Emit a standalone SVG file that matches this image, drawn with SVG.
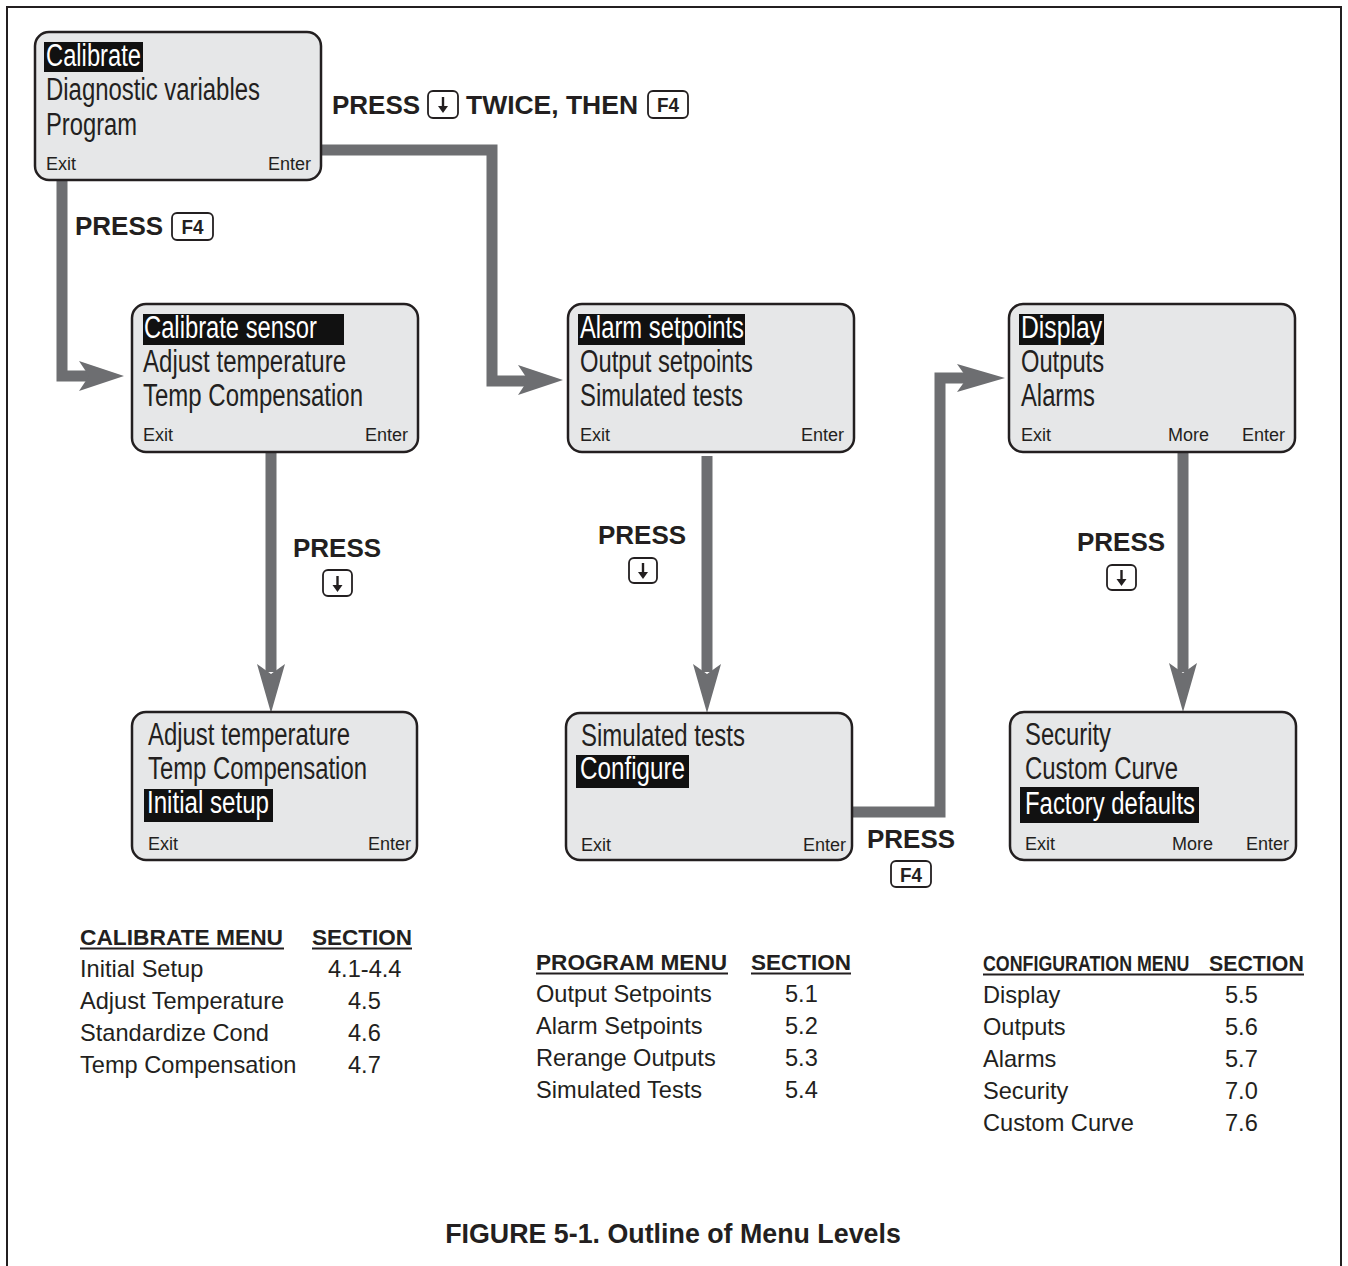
<svg xmlns="http://www.w3.org/2000/svg" width="1348" height="1266" viewBox="0 0 1348 1266">
<style>
.box{fill:#e6e7e8;stroke:#231f20;stroke-width:2.5}
.hl{fill:#111}
.lcd{font-family:"Liberation Sans",Arial,sans-serif;font-size:31px;fill:#231f20}
.lcdw{font-family:"Liberation Sans",Arial,sans-serif;font-size:31px;fill:#fff}
.soft{font-family:"Liberation Sans",Arial,sans-serif;font-size:18px;fill:#231f20}
.lbl{font-family:"Liberation Sans",Arial,sans-serif;font-size:26px;font-weight:bold;fill:#231f20}
.cap{font-family:"Liberation Sans",Arial,sans-serif;font-size:26.8px;font-weight:bold;fill:#231f20}
.key{fill:#fff;stroke:#231f20;stroke-width:1.8}
.keyt{font-family:"Liberation Sans",Arial,sans-serif;font-size:20px;font-weight:bold;fill:#231f20;text-anchor:middle}
.hd{font-family:"Liberation Sans",Arial,sans-serif;font-size:22px;font-weight:bold;fill:#231f20}
.row{font-family:"Liberation Sans",Arial,sans-serif;font-size:23.6px;fill:#231f20}
.ul{stroke:#231f20;stroke-width:2}
.conn{fill:none;stroke:#6d6e71;stroke-width:11;stroke-linejoin:miter}
.head{fill:#6d6e71}
</style>
<rect x="0" y="0" width="1348" height="1266" fill="#fff"/>
<path d="M7,1266 V7 H1341 V1266" fill="none" stroke="#231f20" stroke-width="2"/>

<g id="connectors">
<polyline class="conn" points="62,180 62,376 92,376"/>
<polygon class="head" points="124,376 79,361 89,376 79,391"/>
<polyline class="conn" points="321,150 492,150 492,381 530,381"/>
<polygon class="head" points="563,380 518,365 528,380 518,395"/>
<polyline class="conn" points="271,452 271,672"/>
<polygon class="head" points="271,713 257,664 271,674 285,664"/>
<polyline class="conn" points="707,456 707,672"/>
<polygon class="head" points="707,713 693,664 707,674 721,664"/>
<polyline class="conn" points="1183,452 1183,672"/>
<polygon class="head" points="1183,712 1169,663 1183,673 1197,663"/>
<polyline class="conn" points="852,812 940,812 940,378 968,378"/>
<polygon class="head" points="1005,378 957,364 967,378 957,392"/>
</g>

<g id="node-main">
<rect class="box" x="35" y="32" width="286" height="148" rx="14"/>
<rect class="hl" x="44" y="42" width="99" height="30"/>
<text class="lcdw" x="46" y="66" textLength="95" lengthAdjust="spacingAndGlyphs">Calibrate</text>
<text class="lcd" x="46" y="100" textLength="214" lengthAdjust="spacingAndGlyphs">Diagnostic variables</text>
<text class="lcd" x="46" y="135" textLength="91" lengthAdjust="spacingAndGlyphs">Program</text>
<text class="soft" x="46" y="170">Exit</text>
<text class="soft" x="311" y="170" text-anchor="end">Enter</text>
</g>

<g id="node-calibrate">
<rect class="box" x="132" y="304" width="286" height="148" rx="14"/>
<rect class="hl" x="143" y="314" width="201" height="31"/>
<text class="lcdw" x="144" y="338" textLength="173" lengthAdjust="spacingAndGlyphs">Calibrate sensor</text>
<text class="lcd" x="143" y="372" textLength="203" lengthAdjust="spacingAndGlyphs">Adjust temperature</text>
<text class="lcd" x="143" y="406" textLength="220" lengthAdjust="spacingAndGlyphs">Temp Compensation</text>
<text class="soft" x="143" y="441">Exit</text>
<text class="soft" x="408" y="441" text-anchor="end">Enter</text>
</g>

<g id="node-program">
<rect class="box" x="568" y="304" width="286" height="148" rx="14"/>
<rect class="hl" x="578" y="314" width="167" height="31"/>
<text class="lcdw" x="580" y="338" textLength="164" lengthAdjust="spacingAndGlyphs">Alarm setpoints</text>
<text class="lcd" x="580" y="372" textLength="173" lengthAdjust="spacingAndGlyphs">Output setpoints</text>
<text class="lcd" x="580" y="406" textLength="163" lengthAdjust="spacingAndGlyphs">Simulated tests</text>
<text class="soft" x="580" y="441">Exit</text>
<text class="soft" x="844" y="441" text-anchor="end">Enter</text>
</g>

<g id="node-config">
<rect class="box" x="1009" y="304" width="286" height="148" rx="14"/>
<rect class="hl" x="1019" y="314" width="85" height="31"/>
<text class="lcdw" x="1021" y="338" textLength="81" lengthAdjust="spacingAndGlyphs">Display</text>
<text class="lcd" x="1021" y="372" textLength="83" lengthAdjust="spacingAndGlyphs">Outputs</text>
<text class="lcd" x="1021" y="406" textLength="74" lengthAdjust="spacingAndGlyphs">Alarms</text>
<text class="soft" x="1021" y="441">Exit</text>
<text class="soft" x="1168" y="441">More</text>
<text class="soft" x="1285" y="441" text-anchor="end">Enter</text>
</g>

<g id="node-calibrate-2">
<rect class="box" x="132" y="712" width="285" height="148" rx="14"/>
<text class="lcd" x="148" y="745" textLength="202" lengthAdjust="spacingAndGlyphs">Adjust temperature</text>
<text class="lcd" x="148" y="779" textLength="219" lengthAdjust="spacingAndGlyphs">Temp Compensation</text>
<rect class="hl" x="144" y="789" width="129" height="33"/>
<text class="lcdw" x="147" y="813" textLength="122" lengthAdjust="spacingAndGlyphs">Initial setup</text>
<text class="soft" x="148" y="850">Exit</text>
<text class="soft" x="411" y="850" text-anchor="end">Enter</text>
</g>

<g id="node-program-2">
<rect class="box" x="566" y="713" width="286" height="147" rx="14"/>
<text class="lcd" x="581" y="746" textLength="164" lengthAdjust="spacingAndGlyphs">Simulated tests</text>
<rect class="hl" x="576" y="755" width="113" height="33"/>
<text class="lcdw" x="580" y="779" textLength="105" lengthAdjust="spacingAndGlyphs">Configure</text>
<text class="soft" x="581" y="851">Exit</text>
<text class="soft" x="846" y="851" text-anchor="end">Enter</text>
</g>

<g id="node-config-2">
<rect class="box" x="1010" y="712" width="286" height="148" rx="14"/>
<text class="lcd" x="1025" y="745" textLength="86" lengthAdjust="spacingAndGlyphs">Security</text>
<text class="lcd" x="1025" y="779" textLength="153" lengthAdjust="spacingAndGlyphs">Custom Curve</text>
<rect class="hl" x="1020" y="787" width="179" height="36"/>
<text class="lcdw" x="1025" y="814" textLength="170" lengthAdjust="spacingAndGlyphs">Factory defaults</text>
<text class="soft" x="1025" y="850">Exit</text>
<text class="soft" x="1172" y="850">More</text>
<text class="soft" x="1289" y="850" text-anchor="end">Enter</text>
</g>

<g id="labels">
<text class="lbl" x="332" y="114">PRESS</text>
<rect class="key" x="428" y="91" width="30" height="27" rx="5"/>
<line x1="443" y1="97" x2="443" y2="108" stroke="#231f20" stroke-width="2.4"/>
<polygon points="438,106 448,106 443,113" fill="#231f20"/>
<text class="lbl" x="466" y="114" textLength="172" lengthAdjust="spacingAndGlyphs">TWICE, THEN</text>
<rect class="key" x="648" y="91" width="40" height="27" rx="5"/>
<text class="keyt" x="668" y="112" textLength="22" lengthAdjust="spacingAndGlyphs">F4</text>

<text class="lbl" x="75" y="235">PRESS</text>
<rect class="key" x="172" y="213" width="41" height="27" rx="5"/>
<text class="keyt" x="192.5" y="234" textLength="22" lengthAdjust="spacingAndGlyphs">F4</text>

<text class="lbl" x="293" y="557">PRESS</text>
<rect class="key" x="323" y="570" width="29" height="26" rx="5"/>
<line x1="337.5" y1="576" x2="337.5" y2="587" stroke="#231f20" stroke-width="2.4"/>
<polygon points="332.5,585 342.5,585 337.5,592" fill="#231f20"/>

<text class="lbl" x="598" y="544">PRESS</text>
<rect class="key" x="629" y="558" width="28" height="25" rx="5"/>
<line x1="643" y1="563" x2="643" y2="574" stroke="#231f20" stroke-width="2.4"/>
<polygon points="638,572 648,572 643,579" fill="#231f20"/>

<text class="lbl" x="1077" y="551">PRESS</text>
<rect class="key" x="1107" y="565" width="29" height="25" rx="5"/>
<line x1="1121.5" y1="570" x2="1121.5" y2="581" stroke="#231f20" stroke-width="2.4"/>
<polygon points="1116.5,579 1126.5,579 1121.5,586" fill="#231f20"/>

<text class="lbl" x="867" y="848">PRESS</text>
<rect class="key" x="891" y="861" width="40" height="26" rx="5"/>
<text class="keyt" x="911" y="882" textLength="22" lengthAdjust="spacingAndGlyphs">F4</text>
</g>

<g id="table-calibrate">
<text class="hd" x="80" y="945" textLength="203" lengthAdjust="spacingAndGlyphs">CALIBRATE MENU</text>
<text class="hd" x="312" y="945" textLength="100" lengthAdjust="spacingAndGlyphs">SECTION</text>
<line class="ul" x1="80" y1="948.5" x2="284" y2="948.5"/>
<line class="ul" x1="312" y1="948.5" x2="412" y2="948.5"/>
<text class="row" x="80" y="977">Initial Setup</text><text class="row" x="328" y="977">4.1-4.4</text>
<text class="row" x="80" y="1009">Adjust Temperature</text><text class="row" x="348" y="1009">4.5</text>
<text class="row" x="80" y="1041">Standardize Cond</text><text class="row" x="348" y="1041">4.6</text>
<text class="row" x="80" y="1073">Temp Compensation</text><text class="row" x="348" y="1073">4.7</text>
</g>

<g id="table-program">
<text class="hd" x="536" y="970" textLength="191" lengthAdjust="spacingAndGlyphs">PROGRAM MENU</text>
<text class="hd" x="751" y="970" textLength="100" lengthAdjust="spacingAndGlyphs">SECTION</text>
<line class="ul" x1="536" y1="973.5" x2="728" y2="973.5"/>
<line class="ul" x1="751" y1="973.5" x2="851" y2="973.5"/>
<text class="row" x="536" y="1002">Output Setpoints</text><text class="row" x="785" y="1002">5.1</text>
<text class="row" x="536" y="1034">Alarm Setpoints</text><text class="row" x="785" y="1034">5.2</text>
<text class="row" x="536" y="1066">Rerange Outputs</text><text class="row" x="785" y="1066">5.3</text>
<text class="row" x="536" y="1098">Simulated Tests</text><text class="row" x="785" y="1098">5.4</text>
</g>

<g id="table-config">
<text class="hd" transform="translate(983,971) scale(0.81,1)" x="0" y="0">CONFIGURATION MENU</text>
<text class="hd" transform="translate(1209,971) scale(0.97,1)" x="0" y="0">SECTION</text>
<line class="ul" x1="983" y1="974.5" x2="1304" y2="974.5"/>
<text class="row" x="983" y="1003">Display</text><text class="row" x="1225" y="1003">5.5</text>
<text class="row" x="983" y="1035">Outputs</text><text class="row" x="1225" y="1035">5.6</text>
<text class="row" x="983" y="1067">Alarms</text><text class="row" x="1225" y="1067">5.7</text>
<text class="row" x="983" y="1099">Security</text><text class="row" x="1225" y="1099">7.0</text>
<text class="row" x="983" y="1131">Custom Curve</text><text class="row" x="1225" y="1131">7.6</text>
</g>

<text class="cap" x="673" y="1243" text-anchor="middle">FIGURE 5-1. Outline of Menu Levels</text>
</svg>
